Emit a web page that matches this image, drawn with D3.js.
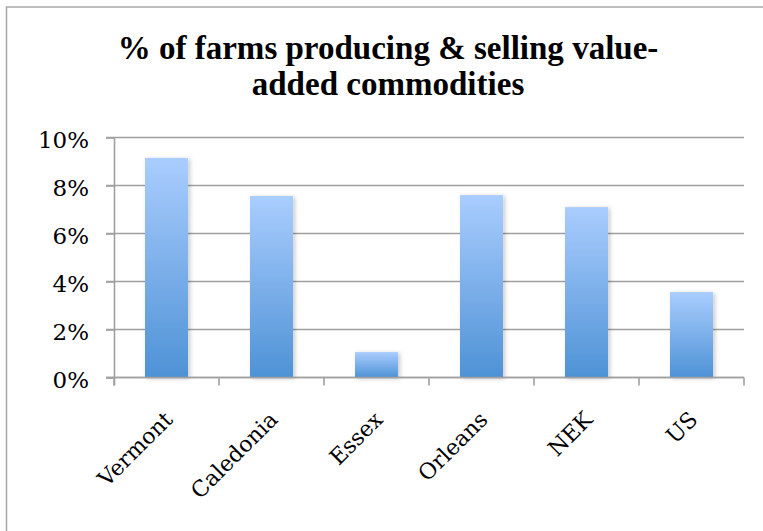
<!DOCTYPE html>
<html>
<head>
<meta charset="utf-8">
<script src="https://cdn.jsdelivr.net/npm/d3@7"></script>
<style>
  html, body { margin: 0; padding: 0; background: #fff; }
  svg { display: block; }
</style>
</head>
<body>
<div id="chart"></div>
<script>
// Share of farms producing & selling value-added commodities, by area
const categories = ["Vermont", "Caledonia", "Essex", "Orleans", "NEK", "US"];
const shares = [0.0915, 0.0756, 0.0106, 0.0760, 0.0710, 0.0356];
const yTicks = [0, 0.02, 0.04, 0.06, 0.08, 0.10];
const titleLines = ["% of farms producing & selling value-", "added commodities"];

const W = 763, H = 531;
const plot = { left: 114, right: 744, top: 137.5, bottom: 377.5 };

const svg = d3.select("#chart").append("svg")
  .attr("width", W).attr("height", H);

const defs = svg.append("defs");
const grad = defs.append("linearGradient")
  .attr("id", "barFill").attr("x1", 0).attr("y1", 0).attr("x2", 0).attr("y2", 1);
grad.append("stop").attr("offset", "0%").attr("stop-color", "#aacdfe");
grad.append("stop").attr("offset", "100%").attr("stop-color", "#4e92d6");

const shadow = defs.append("filter").attr("id", "barShadow")
  .attr("x", "-20%").attr("y", "-10%").attr("width", "150%").attr("height", "130%");
shadow.append("feDropShadow")
  .attr("dx", 2).attr("dy", 1).attr("stdDeviation", 2)
  .attr("flood-color", "#000").attr("flood-opacity", 0.22);

// Chart frame
svg.append("rect")
  .attr("x", 6.5).attr("y", 7).attr("width", W + 10).attr("height", H + 10)
  .attr("fill", "#fff").attr("stroke", "#a8a8a8").attr("stroke-width", 1.5);

// Title
const title = svg.append("text")
  .attr("text-anchor", "middle")
  .attr("font-family", "'Liberation Serif', serif")
  .attr("font-weight", "bold")
  .attr("font-size", 28)
  .attr("fill", "#000");
title.selectAll("tspan").data(titleLines).join("tspan")
  .attr("x", 388)
  .attr("y", (d, i) => 59 + i * 36)
  .text(d => d);
// size the title so its first line spans the intended width
const firstLine = title.select("tspan").node();
const fitSize = 28 * 541 / firstLine.getComputedTextLength();
title.attr("font-size", fitSize);

const x = d3.scaleBand()
  .domain(categories)
  .range([plot.left, plot.right])
  .paddingInner(0.59)
  .paddingOuter(0.295);

const y = d3.scaleLinear()
  .domain([0, 0.10])
  .range([plot.bottom, plot.top]);

const gridColor = "#a0a0a0";
const labelFont = "'DejaVu Serif', serif";

// Horizontal gridlines
svg.append("g")
  .selectAll("line")
  .data(yTicks)
  .join("line")
  .attr("x1", plot.left - 8).attr("x2", plot.right)
  .attr("y1", d => y(d)).attr("y2", d => y(d))
  .attr("stroke", gridColor).attr("stroke-width", 1.6);

// Y axis
const yAxis = svg.append("g")
  .attr("transform", `translate(${plot.left},0)`)
  .call(d3.axisLeft(y).tickValues(yTicks).tickFormat(d3.format(".0%"))
    .tickSize(8).tickSizeOuter(0).tickPadding(17));
yAxis.select(".domain").attr("stroke", gridColor).attr("stroke-width", 1.6)
  .attr("d", `M0.5,${plot.top}V${plot.bottom + 8}`);
yAxis.selectAll(".tick line").attr("stroke", gridColor).attr("stroke-width", 1.6);
yAxis.selectAll(".tick text")
  .attr("font-family", labelFont).attr("font-size", 23).attr("fill", "#000")
  .attr("dy", "0.45em");

// Bars
svg.append("g")
  .selectAll("rect")
  .data(categories.map((c, i) => ({ c, v: shares[i] })))
  .join("rect")
  .attr("x", d => x(d.c))
  .attr("width", x.bandwidth())
  .attr("y", d => y(d.v))
  .attr("height", d => y(0) - y(d.v))
  .attr("fill", "url(#barFill)")
  .attr("filter", "url(#barShadow)");

// X axis: baseline, boundary ticks, rotated labels
const xAxis = svg.append("g")
  .attr("transform", `translate(0,${plot.bottom})`)
  .call(d3.axisBottom(x).tickSize(0).tickSizeOuter(0));
xAxis.select(".domain").attr("stroke", gridColor).attr("stroke-width", 1.6)
  .attr("d", `M${plot.left - 8},0H${plot.right}`);

const gap = x.step() - x.bandwidth();
const boundaries = categories.map(c => x(c) - gap / 2).concat([plot.right]);
xAxis.selectAll(".bound")
  .data(boundaries)
  .join("line")
  .attr("class", "bound")
  .attr("x1", d => d).attr("x2", d => d)
  .attr("y1", 0).attr("y2", 8)
  .attr("stroke", gridColor).attr("stroke-width", 1.6);

xAxis.selectAll(".tick text")
  .attr("font-family", labelFont).attr("font-size", 22).attr("fill", "#000")
  .attr("text-anchor", "end")
  .attr("y", 0).attr("dy", "0.35em")
  .attr("transform", "translate(2,38) rotate(-45)");
</script>
</body>
</html>
